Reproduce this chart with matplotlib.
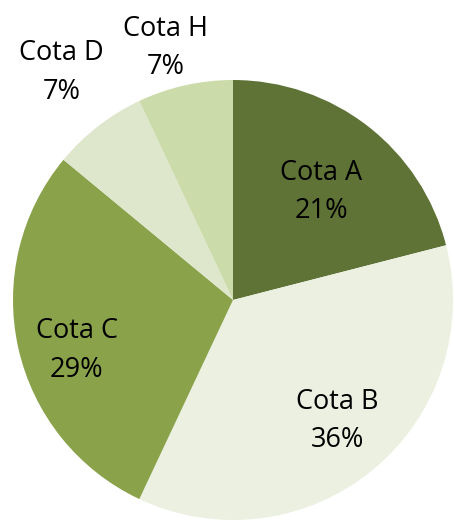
import matplotlib.pyplot as plt

labels = ['Cota A', 'Cota B', 'Cota C', 'Cota D', 'Cota H']
values = [21, 36, 29, 7, 7]
colors = ['#5F7337', '#EBF0E1', '#8AA34B', '#DEE6CC', '#CCDBAA']
# label centres, in units of the pie radius
label_x = [0.40, 0.475, -0.71, -0.78, -0.305]
label_y = [0.49, -0.55, -0.23, 1.035, 1.145]

fig = plt.figure(figsize=(4.54, 5.21), dpi=100)
ax = fig.add_axes([13 / 454, 1 / 521, 440 / 454, 440 / 521])

ax.pie(values, colors=colors, startangle=90, counterclock=False,
       radius=1, wedgeprops=dict(linewidth=0))

total = sum(values)
for lab, v, x, y in zip(labels, values, label_x, label_y):
    ax.text(x, y, f'{lab}\n{v / total * 100:.0f}%', ha='center', va='center',
            fontsize=19.5, family='Open Sans', linespacing=1.5, clip_on=False)

ax.set_xlim(-1, 1)
ax.set_ylim(-1, 1)
ax.set_aspect('equal')
ax.axis('off')

fig.savefig('out.png', dpi=100)
